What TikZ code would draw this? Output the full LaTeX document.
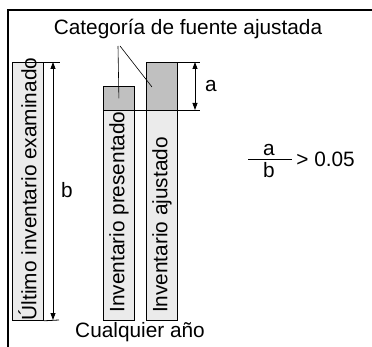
\documentclass[tikz,border=0pt]{standalone}
\usepackage{fontspec}
\setmainfont{Liberation Sans}
\usetikzlibrary{arrows.meta}
\definecolor{lightbar}{HTML}{EBEBEB}
\definecolor{darkbar}{HTML}{C0C0C0}
\tikzstyle{every node}=[inner sep=1pt,font=\fontsize{20.8}{24}\selectfont]
\tikzstyle{bar}=[draw=black,fill=lightbar,minimum width=31pt,anchor=north west,inner sep=0pt]
\tikzstyle{cat}=[bar,fill=darkbar]
\tikzstyle{dim}=[{Triangle[length=7pt,width=5pt]}-{Triangle[length=7pt,width=5pt]}]

\begin{document}
\begin{tikzpicture}[x=1pt,y=-1pt,line width=0.8pt]
  \useasboundingbox (0,0) rectangle (372,347);
  % frame
  \draw[line width=1.3pt] (8,347) -- (8,10) -- (372,10);
  % bars
  \node[bar,minimum height=258pt] (ultimo) at (12,62) {};
  \node[cat,minimum height=24pt] (presCat) at (103,86) {};
  \node[bar,minimum height=210pt] (pres) at (103,110) {};
  \node[cat,minimum height=48pt] (ajusCat) at (146,62) {};
  \node[bar,minimum height=210pt] (ajus) at (146,110) {};
  \node[rotate=90] at (27.5,189) {Último inventario examinado};
  \node[rotate=90] at (119,212) {Inventario presentado};
  \node[rotate=90] at (162,225) {Inventario ajustado};
  % dimension b
  \coordinate (bTop) at (60,62);
  \coordinate (bBot) at (59,320);
  \draw (ultimo.north east) -- (bTop);
  \draw (ultimo.south east) -- (bBot);
  \draw[dim] (53,62) -- (53,320);
  \node (b) at (67,190) {b};
  % dimension a
  \coordinate (aTop) at (200,62);
  \coordinate (aBot) at (200,110);
  \draw (ajusCat.north east) -- (aTop);
  \draw (pres.north east) -- (aBot);
  \draw[dim] (195,62) -- (195,110);
  \node (a) at (211,86) {a};
  % label
  \node (catLabel) at (188,29) {Categoría de fuente ajustada};
  \coordinate (leadA) at (118,46);
  \coordinate (leadB) at (120,46);
  \coordinate (ajusPt) at (152,87);
  \draw[line width=0.6pt] (leadA) -- (presCat.center);
  \draw[line width=0.6pt] (leadB) -- (ajusPt);
  % ratio
  \node (num) at (269,150) {a};
  \node (den) at (269,170) {b};
  \coordinate (fracL) at (248,159);
  \coordinate (fracR) at (292,159);
  \draw (fracL) -- (fracR);
  \node[anchor=west] (limit) at (295,159) {> 0.05};
  \node (year) at (140,332) {Cualquier año};
\end{tikzpicture}
\end{document}
